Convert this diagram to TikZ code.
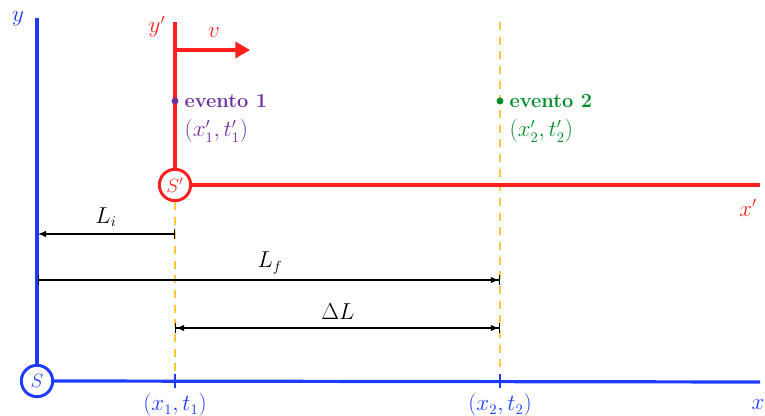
\documentclass[tikz,border=0pt]{standalone}
\usetikzlibrary{arrows.meta}
\definecolor{cblue}{RGB}{30,60,255}
\definecolor{cred}{RGB}{255,30,30}
\definecolor{cpurple}{RGB}{112,48,160}
\definecolor{cgreen}{RGB}{0,140,40}
\definecolor{cyellow}{RGB}{255,200,60}
\begin{document}
\begin{tikzpicture}[x=0.75pt,y=-0.75pt,
  lbl/.style={font=\fontsize{16}{18}\selectfont, inner sep=1pt},
  evt/.style={font=\fontsize{15}{18}\selectfont\bfseries, inner sep=1pt, anchor=west},
  blueaxis/.style={draw=cblue, line width=2.4pt},
  redaxis/.style={draw=cred, line width=2.4pt},
  origin/.style={circle, line width=2.2pt, minimum size=23.5pt, inner sep=0pt, fill=white, font=\fontsize{14}{16}\selectfont},
  guide/.style={draw=cyellow, line width=1.3pt, dash pattern=on 6pt off 5pt},
  dim/.style={draw=black, line width=0.9pt},
  tick/.style={draw=cblue, line width=1.2pt}]
\useasboundingbox (0,0) rectangle (765,416);
% blue frame S
\node[origin, draw=cblue, text=cblue] (S) at (37,381) {$S$};
\coordinate (ytop) at (37,18);
\coordinate (xend) at (760,382);
\draw[blueaxis] (S.north) -- (ytop);
\draw[blueaxis] (S.east) -- (xend);
\node[lbl, text=cblue] (ylab) at (18,19) {$y$};
\node[lbl, text=cblue] (xlab) at (758,405) {$x$};
% guides
\coordinate (g1b) at (175,381);
\coordinate (g2t) at (500,22);
\coordinate (g2b) at (500,381);
% red frame S'
\node[origin, draw=cred, text=cred] (Sp) at (175,185) {$S'$};
\draw[guide] (Sp.south) -- (g1b);
\draw[guide] (g2t) -- (g2b);
\coordinate (yptop) at (175,22);
\coordinate (xpend) at (760,185);
\draw[redaxis] (Sp.north) -- (yptop);
\draw[redaxis] (Sp.east) -- (xpend);
\node[lbl, text=cred] (yplab) at (157,27) {$y'$};
\node[lbl, text=cred] (xplab) at (748,208) {$x'$};
% velocity
\coordinate (v0) at (175,50);
\coordinate (v1) at (250,50);
\draw[draw=cred, line width=2.4pt, -{Triangle[length=11pt,width=12pt]}] (v0) -- (v1);
\node[lbl, text=cred] (vlab) at (214,33) {$v$};
% ticks
\coordinate (t1a) at (175,374);
\coordinate (t1b) at (175,388);
\coordinate (t2a) at (500,374);
\coordinate (t2b) at (500,388);
\draw[tick] (t1a) -- (t1b);
\draw[tick] (t2a) -- (t2b);
\node[lbl, text=cblue] (x1lab) at (175,405) {$(x_1,t_1)$};
\node[lbl, text=cblue] (x2lab) at (500,405) {$(x_2,t_2)$};
% events
\fill[cpurple] (175,101) circle (2.6pt) coordinate (e1);
\node[evt, text=cpurple] (ev1) at (183,101) {evento 1};
\node[lbl, text=cpurple, anchor=west] (ev1c) at (183,131) {$(x'_1,t'_1)$};
\fill[cgreen] (500,101) circle (2.6pt) coordinate (e2);
\node[evt, text=cgreen] (ev2) at (508,101) {evento 2};
\node[lbl, text=cgreen, anchor=west] (ev2c) at (508,131) {$(x'_2,t'_2)$};
% dimensions
\coordinate (li0) at (38,234);
\coordinate (li1) at (175,234);
\coordinate (lf0) at (38,280);
\coordinate (lf1) at (500,280);
\coordinate (dl0) at (175,328);
\coordinate (dl1) at (500,328);
\draw[dim, {Latex[length=6pt,width=5pt]}-{Bar[width=8pt]}] (li0) -- (li1);
\draw[dim, {Bar[width=8pt]}-{Latex[length=6pt,width=5pt]Bar[width=8pt]}] (lf0) -- (lf1);
\draw[dim, {Bar[width=8pt]Latex[length=6pt,width=5pt]}-{Latex[length=6pt,width=5pt]Bar[width=8pt]}] (dl0) -- (dl1);
\node[lbl] (lilab) at (106,217) {$L_i$};
\node[lbl] (lflab) at (270,263) {$L_f$};
\node[lbl] (dllab) at (338,312) {$\Delta L$};
\end{tikzpicture}
\end{document}
